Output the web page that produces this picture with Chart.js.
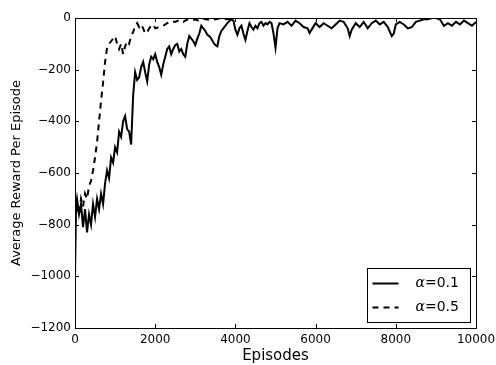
<!DOCTYPE html>
<html lang="en">
<head>
  <meta charset="UTF-8" />
  <title>Average Reward Per Episode</title>
  <script src="https://cdn.jsdelivr.net/npm/chart.js"></script>
  <style>
    html, body {
      margin: 0;
      padding: 0;
      background: white;
      overflow: hidden;
    }
    #wrap {
      width: 496px;
      height: 365px;
    }
  </style>
</head>
<body>
  <div id="wrap"><canvas id="rewardChart"></canvas></div>

  <script>
    // alpha = 0.1 (solid)
    const episodesSlow = [0, 25, 50, 100, 150, 200, 250, 300, 350, 400, 450, 500, 550, 600, 650, 700, 750, 800, 850, 900, 950,
      1000, 1050, 1100, 1150, 1200, 1250, 1300, 1350, 1400, 1450, 1500, 1550, 1600, 1650, 1700, 1750, 1800, 1850, 1900, 1950,
      2000, 2050, 2100, 2150, 2200, 2250, 2300, 2350, 2400, 2450, 2500, 2550, 2600, 2650, 2700, 2750, 2800, 2850, 2900, 2950,
      3000, 3050, 3100, 3150, 3200, 3250, 3300, 3350, 3400, 3450, 3500, 3550, 3600, 3650, 3700, 3750, 3800, 3850, 3900, 3950,
      4000, 4050, 4100, 4150, 4200, 4250, 4300, 4350, 4400, 4450, 4500, 4550, 4600, 4650, 4700, 4750, 4800, 4850, 4900, 4950,
      5000, 5050, 5100, 5200, 5300, 5400, 5500, 5600, 5700, 5800, 5850, 5900, 6000, 6100, 6200, 6300, 6400, 6500, 6600, 6700,
      6800, 6850, 6900, 7000, 7100, 7200, 7300, 7400, 7500, 7600, 7700, 7800, 7900, 7950, 8000, 8100, 8200, 8300, 8400, 8500,
      8600, 8700, 8800, 8900, 9000, 9100, 9200, 9300, 9400, 9500, 9600, 9700, 9800, 9900, 10000];
    const rewardSlow = [-1000, -730, -700, -760, -720, -810, -740, -830, -760, -800, -720, -770, -700, -740, -680, -720, -640, -590, -620, -540, -560,
      -500, -520, -440, -460, -400, -380, -430, -440, -490, -300, -210, -240, -230, -190, -170, -210, -245, -180, -150, -160,
      -140, -170, -190, -220, -180, -150, -120, -110, -140, -120, -105, -100, -130, -120, -140, -150, -100, -70, -80, -90,
      -105, -80, -60, -30, -40, -50, -65, -70, -80, -95, -105, -110, -70, -50, -40, -30, -20, -12, -5, -10,
      -45, -65, -40, -30, -60, -85, -50, -20, -35, -45, -30, -40, -20, -15, -30, -20, -25, -15, -20, -60,
      -115, -40, -20, -25, -15, -30, -10, -20, -35, -40, -58, -45, -20, -35, -20, -30, -40, -25, -10, -15,
      -40, -70, -45, -20, -35, -15, -40, -20, -10, -25, -15, -35, -70, -60, -25, -15, -25, -40, -35, -15,
      -10, -5, -5, 0, 0, -5, -30, -20, -30, -15, -25, -10, -20, -30, -15];

    // alpha = 0.5 (dashed)
    const episodesFast = [0, 50, 100, 150, 200, 250, 300, 350, 400, 450, 500, 550, 600, 650, 700, 750, 800, 850, 900, 950,
      1000, 1050, 1100, 1150, 1200, 1250, 1300, 1350, 1400, 1450, 1500, 1550, 1600, 1650, 1700, 1750, 1800, 1850, 1900, 1950,
      2000, 2100, 2200, 2300, 2400, 2500, 2600, 2700, 2800, 2900, 3000, 3100, 3200, 3400, 3600, 3800, 4000, 10000];
    const rewardFast = [-800, -720, -760, -700, -730, -680, -700, -650, -630, -590, -540, -480, -400, -320, -250, -170, -115, -100, -90, -80,
      -70, -100, -120, -100, -140, -110, -90, -100, -70, -55, -30, -20, -35, -25, -40, -60, -55, -40, -30, -25,
      -40, -35, -30, -20, -12, -15, -8, -15, -5, -10, -5, -12, -3, -8, -2, -5, 0, 0];

    const seriesLabels = ['0.1', '0.5'];
    const xTicks = [0, 2000, 4000, 6000, 8000, 10000];
    const yTicks = [-1200, -1000, -800, -600, -400, -200, 0];

    function toPoints(xs, ys) {
      return xs.map((x, i) => ({ x: x, y: ys[i] }));
    }

    function fmt(v) {
      return String(v).replace('-', '\u2212');
    }

    // matplotlib style frame, inward ticks and legend box
    const framePlugin = {
      id: 'frame',
      afterDatasetsDraw(chart) {
        const ctx = chart.ctx;
        const a = chart.chartArea;
        const xs = chart.scales.x, ys = chart.scales.y;
        ctx.save();
        ctx.strokeStyle = '#000';
        ctx.lineWidth = 1;
        ctx.strokeRect(Math.round(a.left) + 0.5, Math.round(a.top) + 0.5,
          Math.round(a.right - a.left), Math.round(a.bottom - a.top));
        ctx.beginPath();
        xTicks.forEach(v => {
          const px = Math.round(xs.getPixelForValue(v)) + 0.5;
          ctx.moveTo(px, a.bottom); ctx.lineTo(px, a.bottom - 4);
          ctx.moveTo(px, a.top); ctx.lineTo(px, a.top + 4);
        });
        yTicks.forEach(v => {
          const py = Math.round(ys.getPixelForValue(v)) + 0.5;
          ctx.moveTo(a.left, py); ctx.lineTo(a.left + 4, py);
          ctx.moveTo(a.right, py); ctx.lineTo(a.right - 4, py);
        });
        ctx.stroke();

        // legend
        const bx = 367.5, by = 268.5, bw = 103, bh = 54;
        ctx.fillStyle = '#fff';
        ctx.fillRect(bx, by, bw, bh);
        ctx.strokeRect(bx, by, bw, bh);
        chart.data.datasets.forEach((ds, i) => {
          const ly = by + 15 + i * 24;
          ctx.beginPath();
          ctx.lineWidth = ds.borderWidth;
          ctx.setLineDash(ds.borderDash || []);
          ctx.moveTo(bx + 5, ly);
          ctx.lineTo(bx + 31, ly);
          ctx.stroke();
          ctx.setLineDash([]);
          ctx.fillStyle = '#000';
          ctx.textBaseline = 'middle';
          ctx.font = 'italic 14px "DejaVu Serif"';
          ctx.fillText('\u03b1', bx + 48, ly);
          const w = ctx.measureText('\u03b1').width;
          ctx.font = '14px "DejaVu Sans"';
          ctx.fillText('=' + seriesLabels[i], bx + 48 + w, ly);
        });
        ctx.restore();
      }
    };

    const ctx = document.getElementById('rewardChart').getContext('2d');
    new Chart(ctx, {
      type: 'line',
      data: {
        datasets: [
          {
            label: '\u03b1=' + seriesLabels[0],
            data: toPoints(episodesSlow, rewardSlow),
            borderColor: '#000',
            borderWidth: 2,
            pointRadius: 0,
            tension: 0,
            fill: false
          },
          {
            label: '\u03b1=' + seriesLabels[1],
            data: toPoints(episodesFast, rewardFast),
            borderColor: '#000',
            borderWidth: 2,
            borderDash: [6, 5],
            pointRadius: 0,
            tension: 0,
            fill: false
          }
        ]
      },
      options: {
        responsive: true,
        maintainAspectRatio: false,
        animation: false,
        layout: { padding: { left: 0, right: 20, top: 18, bottom: 0 } },
        plugins: {
          legend: { display: false },
          tooltip: { enabled: false }
        },
        scales: {
          x: {
            type: 'linear',
            min: 0,
            max: 10000,
            grid: { display: false, drawTicks: false },
            border: { display: false },
            afterBuildTicks: s => { s.ticks = xTicks.map(v => ({ value: v })); },
            afterFit: s => { s.height = 37; s.paddingLeft = 0; s.paddingRight = 0; },
            ticks: {
              padding: 5,
              color: '#000',
              maxRotation: 0,
              font: { family: 'DejaVu Sans', size: 12 },
              callback: v => fmt(v)
            },
            title: {
              display: true,
              text: 'Episodes',
              color: '#000',
              padding: { top: 0, bottom: 0 },
              font: { family: 'DejaVu Sans', size: 15 }
            }
          },
          y: {
            min: -1200,
            max: 0,
            grid: { display: false, drawTicks: false },
            border: { display: false },
            afterBuildTicks: s => { s.ticks = yTicks.map(v => ({ value: v })); },
            afterFit: s => { s.width = 75; s.paddingTop = 0; s.paddingBottom = 0; },
            ticks: {
              padding: 4,
              color: '#000',
              font: { family: 'DejaVu Sans', size: 12 },
              callback: v => fmt(v)
            },
            title: {
              display: true,
              text: 'Average Reward Per Episode',
              color: '#000',
              padding: { top: 9, bottom: 0 },
              font: { family: 'DejaVu Sans', size: 13 }
            }
          }
        }
      },
      plugins: [framePlugin]
    });
  </script>
</body>
</html>
